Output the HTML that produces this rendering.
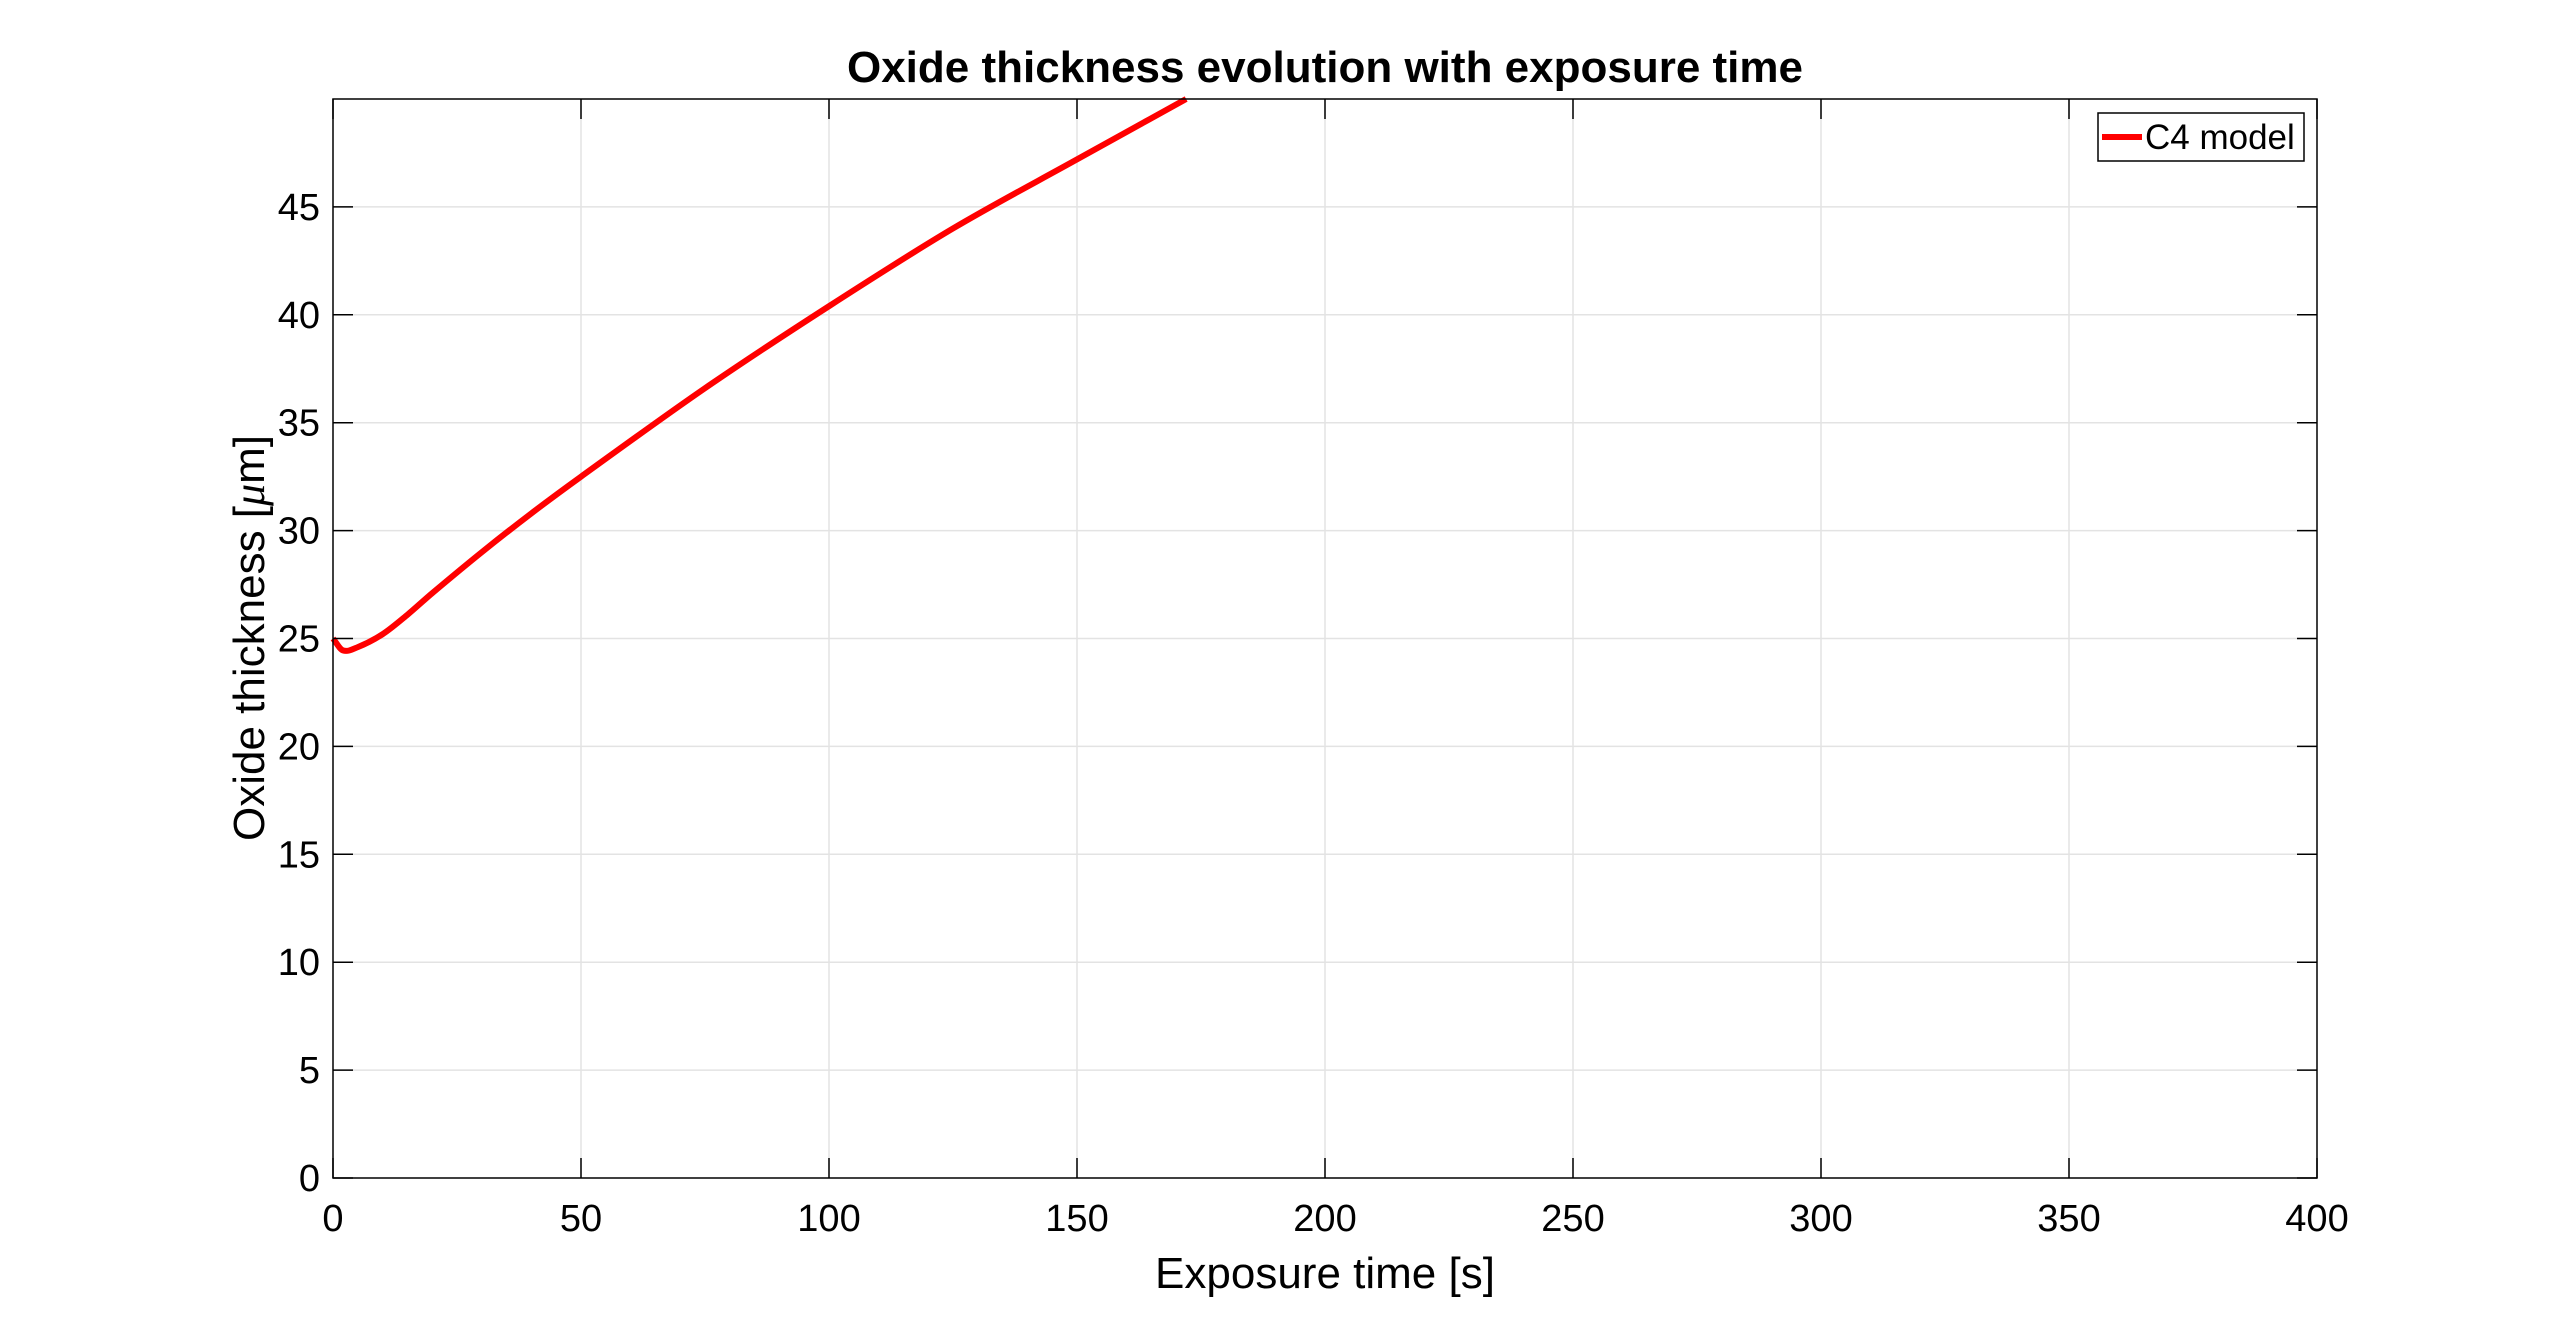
<!DOCTYPE html>
<html><head><meta charset="utf-8"><style>
html,body{margin:0;padding:0;background:#fff;}
svg text{font-family:"Liberation Sans",sans-serif;fill:#000;}
</style></head>
<body>
<svg id="chart" width="2560" height="1323" viewBox="0 0 2560 1323" xmlns="http://www.w3.org/2000/svg">
<rect width="2560" height="1323" fill="#fff"/>
<g id="grid"></g>
<g id="series"></g>
<g id="axes"></g>
<text x="1325" y="82" text-anchor="middle" font-size="44" font-weight="bold">Oxide thickness evolution with exposure time</text>
<text x="1325" y="1288" text-anchor="middle" font-size="44">Exposure time [s]</text>
<text transform="translate(264,638) rotate(-90)" text-anchor="middle" font-size="44">Oxide thickness [<tspan font-family="Liberation Serif" font-style="italic">μ</tspan>m]</text>
<g>
<rect x="2098" y="113" width="206" height="48" fill="#fff" stroke="#000" stroke-width="1.5"/>
<line x1="2102" y1="137" x2="2142" y2="137" stroke="#ff0000" stroke-width="6"/>
<text x="2145" y="149" font-size="35">C4 model</text>
</g>
</svg>
<script>
const xTicks = [0,50,100,150,200,250,300,350,400];
const yTicks = [0,5,10,15,20,25,30,35,40,45];
const timeS = [0,2,5,10,15,20,30,40,50,75,100,125,150,172];
const thickness = [25,24.45,24.6,25.2,26.1,27.1,29.0,30.8,32.5,36.6,40.4,44.0,47.2,50];
const L=333,R=2317,T=99,B=1178,xMin=0,xMax=400,yMin=0,yMax=50;
const xs=v=>L+(v-xMin)/(xMax-xMin)*(R-L);
const ys=v=>B-(v-yMin)/(yMax-yMin)*(B-T);
const NS='http://www.w3.org/2000/svg';
function mk(tag,attrs,parent){const e=document.createElementNS(NS,tag);for(const k in attrs)e.setAttribute(k,attrs[k]);parent.appendChild(e);return e;}
const grid=document.getElementById('grid'),axes=document.getElementById('axes'),series=document.getElementById('series');
xTicks.forEach(t=>{
  const x=xs(t);
  if(t>xMin&&t<xMax){const g=mk('line',{x1:x,y1:T,x2:x,y2:B,stroke:'#e3e3e3','stroke-width':1.5},grid);
  
  }
  const a=mk('line',{x1:x,y1:B,x2:x,y2:B-20,stroke:'#000','stroke-width':1.5},axes);
  
  
  const b=mk('line',{x1:x,y1:T,x2:x,y2:T+20,stroke:'#000','stroke-width':1.5},axes);
  
  
  const tx=mk('text',{x:x,y:1231,'text-anchor':'middle','font-size':38},axes);
  tx.textContent=t;
  
  
});
yTicks.forEach(t=>{
  const y=ys(t);
  if(t>yMin){const g=mk('line',{x1:L,y1:y,x2:R,y2:y,stroke:'#e3e3e3','stroke-width':1.5},grid);
  
  }
  const a=mk('line',{x1:L,y1:y,x2:L+20,y2:y,stroke:'#000','stroke-width':1.5},axes);
  
  
  const b=mk('line',{x1:R,y1:y,x2:R-20,y2:y,stroke:'#000','stroke-width':1.5},axes);
  
  
  const tx=mk('text',{x:320,y:y+13,'text-anchor':'end','font-size':38},axes);
  tx.textContent=t;
  
  
});
const frame=mk('rect',{x:L,y:T,width:R-L,height:B-T,fill:'none',stroke:'#000','stroke-width':1.5},axes);


let d='';
for(let i=0;i<timeS.length;i++){
  const x=xs(timeS[i]),y=ys(thickness[i]);
  if(i===0)d+='M'+x+','+y;
  else{const x0=xs(timeS[i-1]),y0=ys(thickness[i-1]);
    const xp=i>1?xs(timeS[i-2]):x0, yp=i>1?ys(thickness[i-2]):y0;
    const xn=i<timeS.length-1?xs(timeS[i+1]):x, yn=i<timeS.length-1?ys(thickness[i+1]):y;
    const h=x-x0;
    const s0=(y-yp)/((x-xp)||1), s1=(yn-y0)/((xn-x0)||1);
    const c1x=x0+h/3,c1y=y0+s0*h/3,c2x=x-h/3,c2y=y-s1*h/3;
    d+=' C'+c1x+','+c1y+' '+c2x+','+c2y+' '+x+','+y;}
}
const p=mk('path',{d:d,fill:'none',stroke:'#ff0000','stroke-width':6,'stroke-linejoin':'round'},series);


</script>
</body></html>
